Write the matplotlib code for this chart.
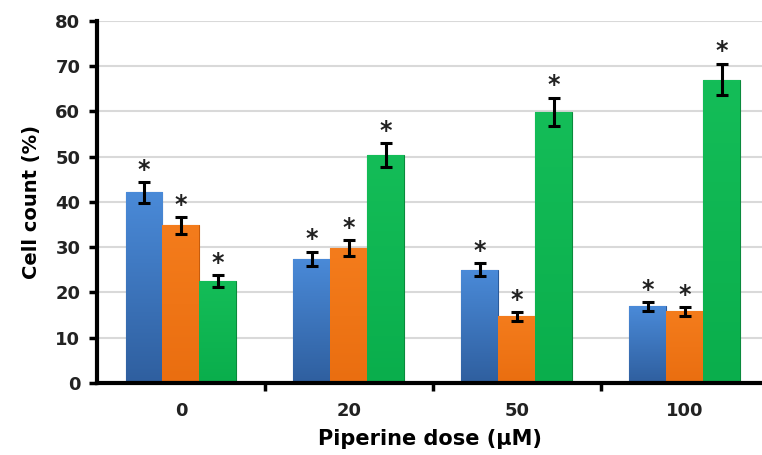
import numpy as np
import matplotlib.pyplot as plt
from matplotlib.colors import LinearSegmentedColormap

# data
doses = ["0", "20", "50", "100"]
blue = [42.1, 27.4, 25.0, 16.9]
orange = [34.8, 29.8, 14.7, 15.8]
green = [22.6, 50.4, 59.9, 67.0]
blue_err = [2.3, 1.6, 1.4, 1.0]
orange_err = [1.9, 1.7, 0.9, 1.0]
green_err = [1.3, 2.6, 3.1, 3.5]

# gradient (bottom, top) per series, edge colour
grads = [('#2f5f9f', '#4a8ad8'), ('#ea6e10', '#f47c1c'), ('#0aae4c', '#14bd58')]
edges = ['#2a5a9a', '#c75c0c', '#0a8a3c']

fig = plt.figure(figsize=(7.62, 4.55), dpi=100)
ax = fig.add_axes([97 / 762, 1 - 383 / 455, 665 / 762, (383 - 20.7) / 455])

x = np.arange(len(doses))
w = 0.22
grad = np.linspace(0, 1, 100).reshape(-1, 1)
series = [(blue, blue_err), (orange, orange_err), (green, green_err)]
for k, (vals, errs) in enumerate(series):
    pos = x + (k - 1) * w
    cmap = LinearSegmentedColormap.from_list('g%d' % k, grads[k])
    bars = ax.bar(pos, vals, width=w, color=grads[k][1], edgecolor=edges[k], linewidth=0.8, zorder=2)
    for b in bars:
        x0, h = b.get_x(), b.get_height()
        im = ax.imshow(grad, extent=[x0, x0 + w, 0, h], origin='lower', aspect='auto',
                       cmap=cmap, zorder=2.1)
        im.set_clip_path(b)
    ax.errorbar(pos, vals, yerr=errs, fmt='none', ecolor='black', elinewidth=2.2,
                capsize=4, capthick=2.2, zorder=3)
    for p, v, e in zip(pos, vals, errs):
        ax.text(p, v + e + 2.7, '*', ha='center', va='center', fontsize=17,
                fontweight='bold', color='#222222', zorder=4)

ax.set_ylim(0, 80)
ax.set_xlim(-0.5, 3.46)
ax.set_yticks(np.arange(0, 81, 10))
ax.yaxis.grid(True, color='#d9d9d9', linewidth=1.5, zorder=0)
ax.set_axisbelow(True)

ax.set_xticks(x)
ax.set_xticklabels(doses)
ax.set_xticks(np.arange(0.5, 3, 1), minor=True)
ax.tick_params(axis='x', which='major', length=0, pad=14)
ax.tick_params(axis='x', which='minor', length=6, width=2.5, color='black')
ax.tick_params(axis='y', length=6, width=2.5, pad=6)

for lab in ax.get_xticklabels() + ax.get_yticklabels():
    lab.set_fontsize(13)
    lab.set_fontweight('bold')
    lab.set_color('#222222')

for s in ['top', 'right']:
    ax.spines[s].set_visible(False)
for s in ['left', 'bottom']:
    ax.spines[s].set_linewidth(3)
    ax.spines[s].set_color('black')

ax.set_ylabel('Cell count (%)', fontsize=14, fontweight='heavy', labelpad=10)
ax.set_xlabel('Piperine dose (µM)', fontsize=15, fontweight='heavy', labelpad=6)

fig.savefig('out.png', dpi=100)
